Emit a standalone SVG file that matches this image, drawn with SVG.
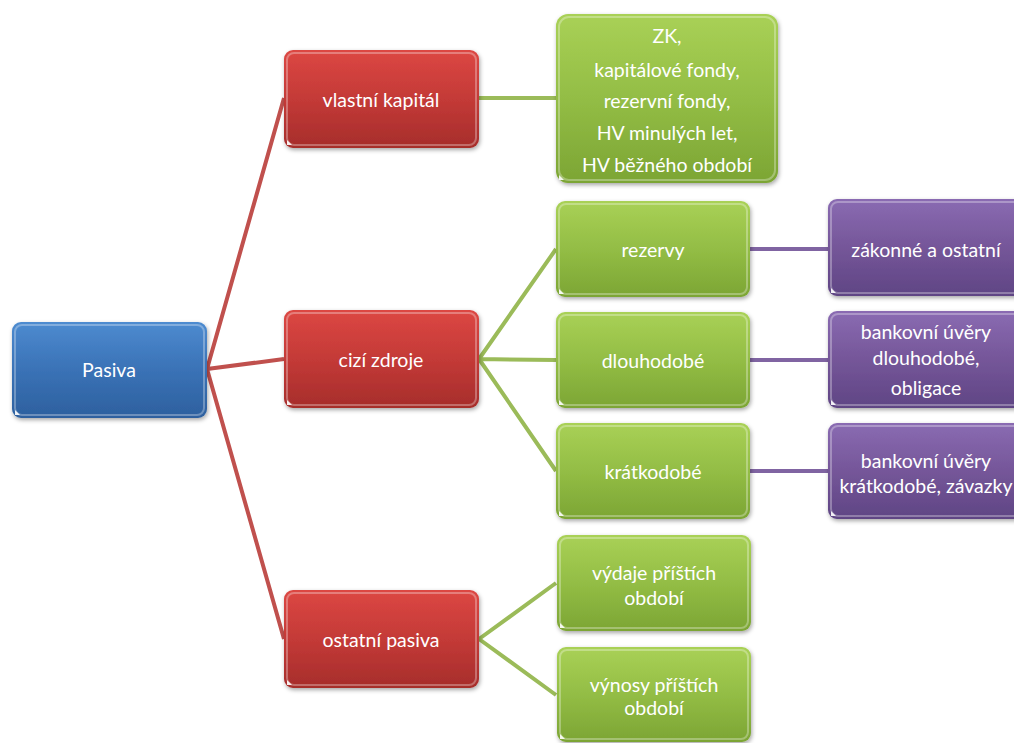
<svg xmlns="http://www.w3.org/2000/svg" width="1014" height="743" viewBox="0 0 1014 743">
<defs>
<linearGradient id="gBlue" x1="0" y1="0" x2="0" y2="1"><stop offset="0" stop-color="#4d8bd0"/><stop offset="0.5" stop-color="#3a72b6"/><stop offset="1" stop-color="#2d609e"/></linearGradient>
<linearGradient id="gRed" x1="0" y1="0" x2="0" y2="1"><stop offset="0" stop-color="#dc4743"/><stop offset="0.5" stop-color="#c43a37"/><stop offset="1" stop-color="#a62d2b"/></linearGradient>
<linearGradient id="gGreen" x1="0" y1="0" x2="0" y2="1"><stop offset="0" stop-color="#a9d156"/><stop offset="0.5" stop-color="#93bd45"/><stop offset="1" stop-color="#7ca534"/></linearGradient>
<linearGradient id="gPurple" x1="0" y1="0" x2="0" y2="1"><stop offset="0" stop-color="#8a6bb2"/><stop offset="0.5" stop-color="#755699"/><stop offset="1" stop-color="#5f4584"/></linearGradient>
<filter id="sh" x="-10%" y="-10%" width="130%" height="130%"><feDropShadow dx="1" dy="2" stdDeviation="2" flood-color="#000" flood-opacity="0.35"/></filter>
</defs>
<style>
.box{filter:url(#sh);}
.hl{fill:none;stroke:#ffffff;stroke-opacity:0.3;stroke-width:2;}
.tri{fill:#ffffff;fill-opacity:0.9;}
.t{font-family:Lato,"Open Sans","Liberation Sans",sans-serif;font-size:19.5px;fill:#ffffff;text-anchor:middle;dominant-baseline:central;}
.cr{stroke:#c0504d;stroke-width:4;fill:none;}
.cg{stroke:#9bbb59;stroke-width:4;fill:none;}
.cp{stroke:#8064a2;stroke-width:4;fill:none;}
</style>
<g id="connectors">
<path class="cr" d="M207,369 L284,98 M207,369 L284,359 M207,369 L284,639"/>
<path class="cg" d="M479,98 L556,98 M479,359 L556,249 M479,359 L556,360 M479,359 L556,471 M479,639 L556,583 M479,639 L556,695"/>
<path class="cp" d="M750,249 L828,249 M750,360 L828,360 M750,471 L828,471"/>
</g>
<g id="pasiva">
<rect class="box" x="12" y="322" width="195" height="96" rx="9" fill="url(#gBlue)"/>
<rect class="hl" x="15" y="325" width="189" height="90" rx="7"/>
<path class="tri" d="M15,415 L15,410 L20,415 Z"/>
<text class="t" x="109" y="369">Pasiva</text>
</g>
<g id="vlastni-kapital">
<rect class="box" x="284" y="50" width="195" height="98" rx="9" fill="url(#gRed)"/>
<rect class="hl" x="287" y="53" width="189" height="92" rx="7"/>
<path class="tri" d="M287,145 L287,140 L292,145 Z"/>
<text class="t" x="381" y="99">vlastní kapitál</text>
</g>
<g id="cizi-zdroje">
<rect class="box" x="284" y="310" width="195" height="98" rx="9" fill="url(#gRed)"/>
<rect class="hl" x="287" y="313" width="189" height="92" rx="7"/>
<path class="tri" d="M287,405 L287,400 L292,405 Z"/>
<text class="t" x="381" y="359">cizí zdroje</text>
</g>
<g id="ostatni-pasiva">
<rect class="box" x="284" y="590" width="195" height="98" rx="9" fill="url(#gRed)"/>
<rect class="hl" x="287" y="593" width="189" height="92" rx="7"/>
<path class="tri" d="M287,685 L287,680 L292,685 Z"/>
<text class="t" x="381" y="639">ostatní pasiva</text>
</g>
<g id="vk-slozky">
<rect class="box" x="556" y="14" width="222" height="169" rx="12" fill="url(#gGreen)"/>
<rect class="hl" x="559" y="17" width="216" height="163" rx="10"/>
<path class="tri" d="M559,180 L559,175 L564,180 Z"/>
<text class="t" x="667" y="35">ZK,</text>
<text class="t" x="667" y="69">kapitálové fondy,</text>
<text class="t" x="667" y="100">rezervní fondy,</text>
<text class="t" x="667" y="132">HV minulých let,</text>
<text class="t" x="667" y="164">HV běžného období</text>
</g>
<g id="rezervy">
<rect class="box" x="556" y="201" width="194" height="96" rx="9" fill="url(#gGreen)"/>
<rect class="hl" x="559" y="204" width="188" height="90" rx="7"/>
<path class="tri" d="M559,294 L559,289 L564,294 Z"/>
<text class="t" x="653" y="249">rezervy</text>
</g>
<g id="dlouhodobe">
<rect class="box" x="556" y="312" width="194" height="96" rx="9" fill="url(#gGreen)"/>
<rect class="hl" x="559" y="315" width="188" height="90" rx="7"/>
<path class="tri" d="M559,405 L559,400 L564,405 Z"/>
<text class="t" x="653" y="360">dlouhodobé</text>
</g>
<g id="kratkodobe">
<rect class="box" x="556" y="423" width="194" height="96" rx="9" fill="url(#gGreen)"/>
<rect class="hl" x="559" y="426" width="188" height="90" rx="7"/>
<path class="tri" d="M559,516 L559,511 L564,516 Z"/>
<text class="t" x="653" y="471">krátkodobé</text>
</g>
<g id="vydaje">
<rect class="box" x="557" y="535" width="194" height="96" rx="9" fill="url(#gGreen)"/>
<rect class="hl" x="560" y="538" width="188" height="90" rx="7"/>
<path class="tri" d="M560,628 L560,623 L565,628 Z"/>
<text class="t" x="654" y="572">výdaje příštích</text>
<text class="t" x="654" y="597">období</text>
</g>
<g id="vynosy">
<rect class="box" x="557" y="647" width="194" height="95" rx="9" fill="url(#gGreen)"/>
<rect class="hl" x="560" y="650" width="188" height="89" rx="7"/>
<path class="tri" d="M560,739 L560,734 L565,739 Z"/>
<text class="t" x="654" y="684">výnosy příštích</text>
<text class="t" x="654" y="707">období</text>
</g>
<g id="zakonne">
<rect class="box" x="828" y="199" width="198" height="97" rx="9" fill="url(#gPurple)"/>
<rect class="hl" x="831" y="202" width="192" height="91" rx="7"/>
<path class="tri" d="M831,293 L831,288 L836,293 Z"/>
<text class="t" x="926" y="249">zákonné a ostatní</text>
</g>
<g id="bankovni-dlouhodobe">
<rect class="box" x="828" y="311" width="198" height="97" rx="9" fill="url(#gPurple)"/>
<rect class="hl" x="831" y="314" width="192" height="91" rx="7"/>
<path class="tri" d="M831,405 L831,400 L836,405 Z"/>
<text class="t" x="926" y="331">bankovní úvěry</text>
<text class="t" x="926" y="357">dlouhodobé,</text>
<text class="t" x="926" y="387">obligace</text>
</g>
<g id="bankovni-kratkodobe">
<rect class="box" x="828" y="423" width="198" height="96" rx="9" fill="url(#gPurple)"/>
<rect class="hl" x="831" y="426" width="192" height="90" rx="7"/>
<path class="tri" d="M831,516 L831,511 L836,516 Z"/>
<text class="t" x="926" y="460">bankovní úvěry</text>
<text class="t" x="926" y="485">krátkodobé, závazky</text>
</g>
</svg>
